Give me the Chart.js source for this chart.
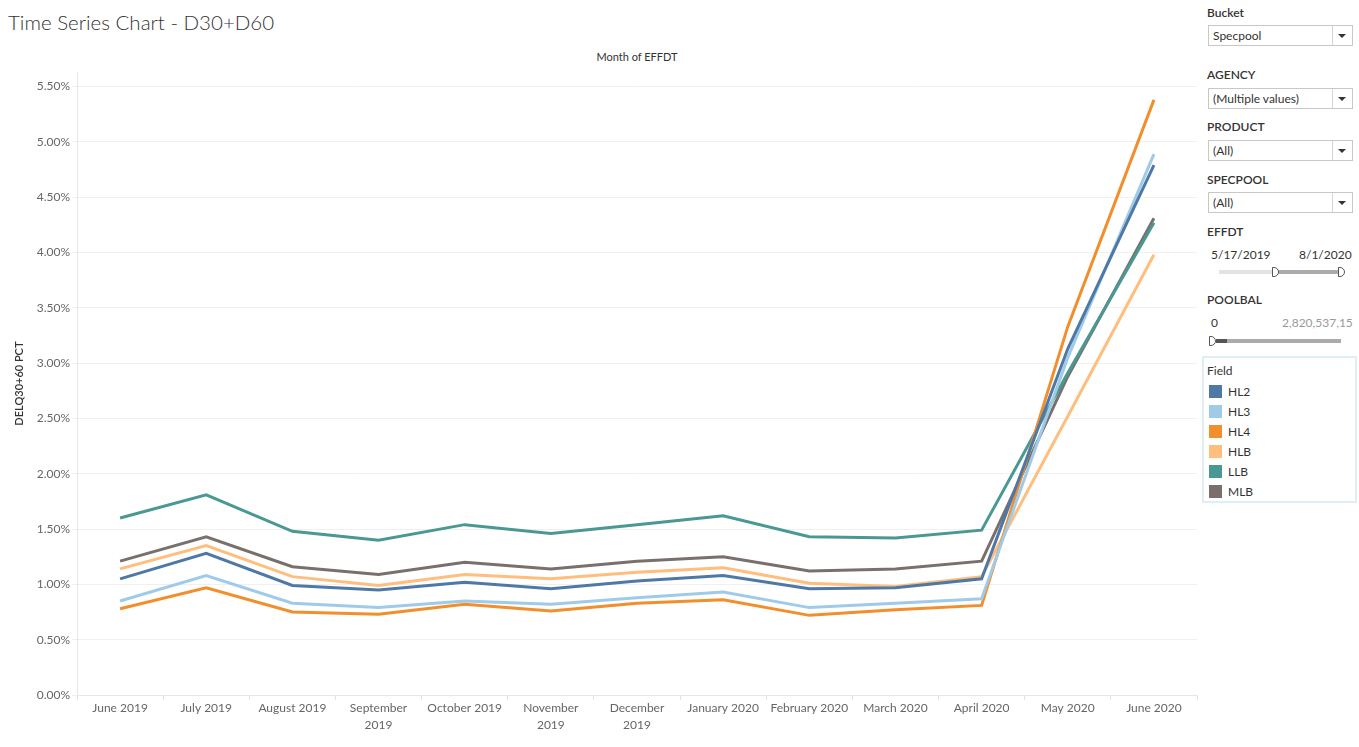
<!DOCTYPE html>
<html lang="en">
<head>
<meta charset="UTF-8">
<title>Time Series Chart - D30+D60</title>
<script src="https://cdn.jsdelivr.net/npm/chart.js"></script>
<style>
    body {
        margin: 0;
        width: 1359px;
        height: 747px;
        overflow: hidden;
        background: #ffffff;
        font-family: Lato, sans-serif;
        color: #333333;
        position: relative;
    }

    .page-title {
        position: absolute;
        left: 8px;
        top: 9px;
        font-size: 20.5px;
        font-weight: 300;
        line-height: 26px;
        color: #333333;
    }

    .axis-top {
        position: absolute;
        left: 77px;
        width: 1120px;
        top: 50px;
        text-align: center;
        font-size: 11px;
        line-height: 14px;
        color: #333333;
    }

    .chart-box {
        position: absolute;
        left: 0;
        top: 63px;
        width: 1200px;
        height: 684px;
    }

    .lbl {
        position: absolute;
        left: 1207px;
        font-size: 12px;
        line-height: 16px;
        font-weight: 600;
        color: #333333;
    }

    .dd {
        position: absolute;
        left: 1208px;
        width: 139px;
        height: 19px;
        padding-left: 4px;
        border: 1px solid #c8c8c8;
        font-size: 12px;
        line-height: 19px;
        color: #333333;
    }

    .dd::after {
        content: "";
        position: absolute;
        left: 123px;
        top: 0;
        width: 1px;
        height: 19px;
        background: #d4d4d4;
    }

    .dd .arrow {
        position: absolute;
        left: 129px;
        top: 8px;
        width: 0;
        height: 0;
        border-left: 4px solid transparent;
        border-right: 4px solid transparent;
        border-top: 4px solid #333333;
    }

    .val {
        position: absolute;
        font-size: 12px;
        line-height: 16px;
        color: #333333;
    }

    .track {
        position: absolute;
        height: 4px;
    }

    .handle {
        position: absolute;
        width: 7px;
        height: 10px;
        background: #ffffff;
        border: 1px solid #555555;
        border-radius: 0 6px 6px 0;
        box-sizing: border-box;
    }

    .legend {
        position: absolute;
        left: 1202px;
        top: 356px;
        width: 151px;
        height: 143px;
        border: 2px solid #e0eef5;
    }

    .legend .head {
        position: absolute;
        left: 3px;
        top: 5px;
        font-size: 12px;
        line-height: 16px;
        color: #333333;
    }

    .legend .item {
        position: absolute;
        left: 5px;
        font-size: 12px;
        line-height: 14px;
        color: #333333;
    }

    .legend .sw {
        display: inline-block;
        width: 13px;
        height: 13px;
        vertical-align: top;
        margin-right: 6px;
    }
</style>
</head>

<body>
    <div class="page-title">Time Series Chart - D30+D60</div>
    <div class="axis-top">Month of EFFDT</div>
    <div class="chart-box">
        <canvas id="grafico"></canvas>
    </div>

    <!-- filtros -->
    <div class="lbl" style="top:5px">Bucket</div>
    <div class="dd" style="top:25px">Specpool<span class="arrow"></span></div>

    <div class="lbl" style="top:67px">AGENCY</div>
    <div class="dd" style="top:88px">(Multiple values)<span class="arrow"></span></div>

    <div class="lbl" style="top:119px">PRODUCT</div>
    <div class="dd" style="top:140px">(All)<span class="arrow"></span></div>

    <div class="lbl" style="top:172px">SPECPOOL</div>
    <div class="dd" style="top:192px">(All)<span class="arrow"></span></div>

    <div class="lbl" style="top:224px">EFFDT</div>
    <div class="val" style="left:1211px; top:247px">5/17/2019</div>
    <div class="val" style="left:1299px; top:247px">8/1/2020</div>
    <div class="track" style="left:1219px; top:270px; width:57px; background:#e3e3e3"></div>
    <div class="track" style="left:1276px; top:270px; width:64px; background:#ababab"></div>
    <div class="handle" style="left:1272px; top:267px"></div>
    <div class="handle" style="left:1338px; top:267px"></div>

    <div class="lbl" style="top:292px">POOLBAL</div>
    <div class="val" style="left:1211px; top:315px">0</div>
    <div class="val" style="left:1282px; top:315px; color:#9a9a9a">2,820,537,15</div>
    <div class="track" style="left:1216px; top:339px; width:11px; background:#555555"></div>
    <div class="track" style="left:1227px; top:339px; width:114px; background:#ababab"></div>
    <div class="handle" style="left:1209px; top:336px"></div>

    <div class="legend" id="legenda">
        <div class="head">Field</div>
    </div>

    <script>
        // meses (eixo x)
        const meses = ["June 2019", "July 2019", "August 2019", ["September", "2019"], "October 2019",
            ["November", "2019"], ["December", "2019"], "January 2020", "February 2020", "March 2020",
            "April 2020", "May 2020", "June 2020"];

        // DELQ30+60 PCT por campo (%)
        const hl2 = [1.05, 1.28, 0.99, 0.95, 1.02, 0.96, 1.03, 1.08, 0.96, 0.97, 1.05, 3.13, 4.79];
        const hl3 = [0.85, 1.08, 0.83, 0.79, 0.85, 0.82, 0.88, 0.93, 0.79, 0.83, 0.87, 3.05, 4.89];
        const hl4 = [0.78, 0.97, 0.75, 0.73, 0.82, 0.76, 0.83, 0.86, 0.72, 0.77, 0.81, 3.33, 5.38];
        const hlb = [1.14, 1.35, 1.07, 0.99, 1.09, 1.05, 1.11, 1.15, 1.01, 0.98, 1.07, 2.52, 3.98];
        const llb = [1.60, 1.81, 1.48, 1.40, 1.54, 1.46, 1.54, 1.62, 1.43, 1.42, 1.49, 2.91, 4.27];
        const mlb = [1.21, 1.43, 1.16, 1.09, 1.20, 1.14, 1.21, 1.25, 1.12, 1.14, 1.21, 2.88, 4.31];

        const campos = ["HL2", "HL3", "HL4", "HLB", "LLB", "MLB"];
        const cores = ["#4e79a7", "#a0cbe8", "#f28e2b", "#ffbe7d", "#499894", "#79706e"];
        const yTicks = [0, 0.5, 1, 1.5, 2, 2.5, 3, 3.5, 4, 4.5, 5, 5.5];

        const series = [hl2, hl3, hl4, hlb, llb, mlb];

        // legenda html
        const legenda = document.getElementById("legenda");
        campos.forEach((c, i) => {
            const el = document.createElement("div");
            el.className = "item";
            el.style.top = (27 + i * 20) + "px";
            el.innerHTML = `<span class="sw" style="background:${cores[i]}"></span>${c}`;
            legenda.appendChild(el);
        });

        const datasets = campos.map((c, i) => ({
            label: c,
            data: series[i],
            borderColor: cores[i],
            backgroundColor: cores[i],
            borderWidth: 3,
            pointRadius: 0,
            tension: 0,
            fill: false
        }));

        const ctx = document.getElementById("grafico").getContext("2d");
        const chart = new Chart(ctx, {
            type: 'line',
            data: { labels: meses, datasets: datasets },
            options: {
                responsive: true,
                maintainAspectRatio: false,
                animation: false,
                layout: { padding: { left: 0, right: 3, top: 6, bottom: 0 } },
                plugins: {
                    legend: { display: false },
                    tooltip: { enabled: false }
                },
                scales: {
                    x: {
                        offset: true,
                        afterFit: (s) => { s.height = 52; },
                        grid: {
                            offset: true,
                            drawOnChartArea: false,
                            drawTicks: true,
                            tickLength: 5,
                            color: '#e2e2e2'
                        },
                        border: { display: true, color: '#e6e6e6' },
                        ticks: {
                            color: '#666666',
                            padding: 0,
                            maxRotation: 0,
                            autoSkip: false,
                            font: { family: 'Lato', size: 12, lineHeight: 1.4 }
                        }
                    },
                    y: {
                        min: 0,
                        max: 5.63,
                        afterFit: (s) => { s.width = 77; },
                        afterBuildTicks: (s) => { s.ticks = yTicks.map(v => ({ value: v })); },
                        grid: {
                            color: '#f0f0f0',
                            drawTicks: true,
                            tickLength: 5
                        },
                        border: { display: true, color: '#e6e6e6' },
                        ticks: {
                            color: '#666666',
                            padding: 2,
                            font: { family: 'Lato', size: 12 },
                            callback: (v) => Number(v).toFixed(2) + '%'
                        },
                        title: {
                            display: true,
                            text: 'DELQ30+60 PCT',
                            color: '#333333',
                            padding: { top: 13, bottom: 0 },
                            font: { family: 'Lato', size: 11, weight: '600' }
                        }
                    }
                }
            }
        });
    </script>
</body>
</html>
